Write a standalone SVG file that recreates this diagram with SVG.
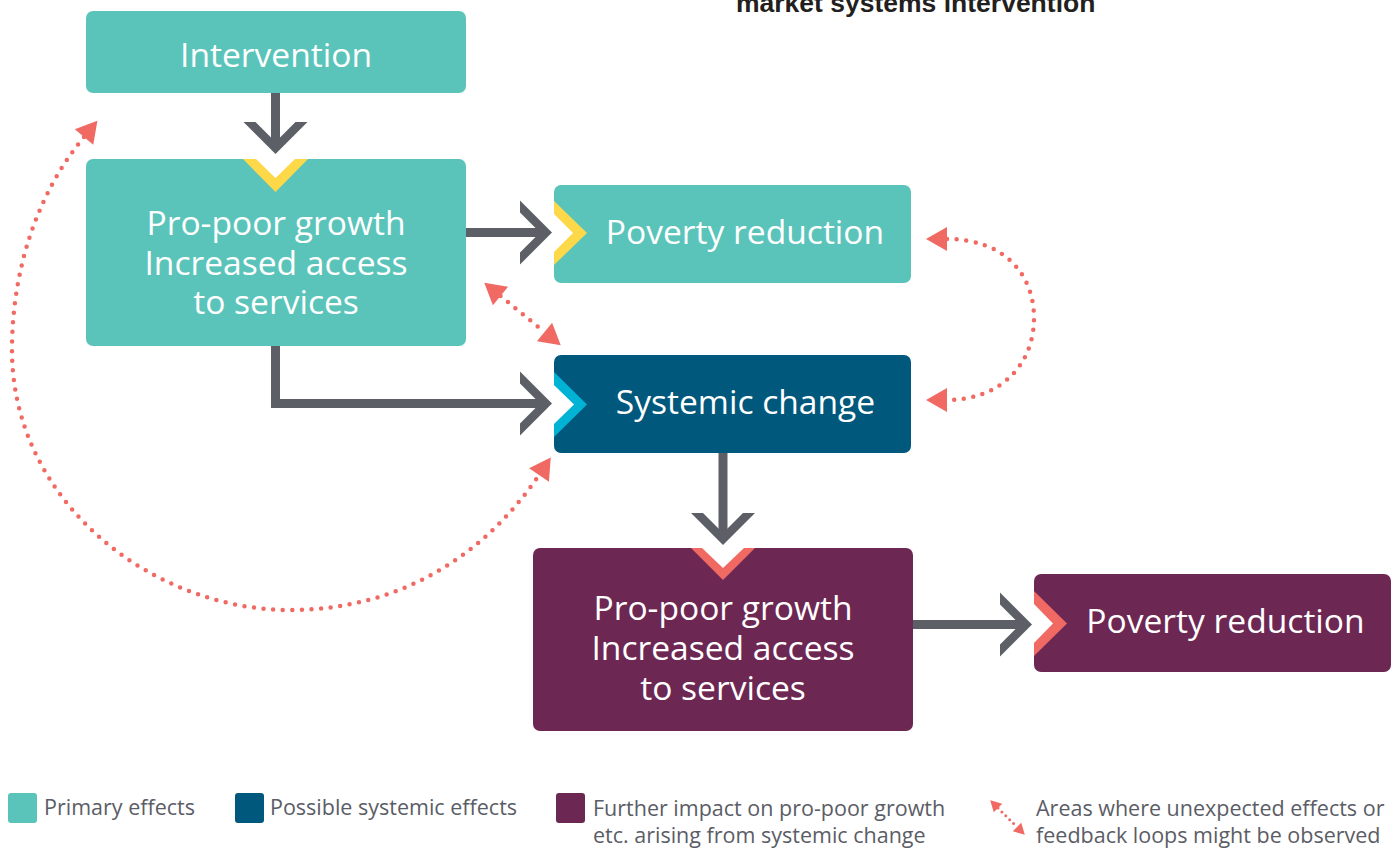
<svg xmlns="http://www.w3.org/2000/svg" width="1399" height="849" viewBox="0 0 1399 849">
<defs>
<style>
.teal{fill:#5bc4ba}
.blue{fill:#00587c}
.purple{fill:#6d2753}
.yellow{fill:#fdd848}
.cyan{fill:#00b2d3}
.coral{fill:#f06a63}
.white{fill:#ffffff}
.lbl{font-family:"Open Sans","Noto Sans","Liberation Sans",sans-serif;font-size:33.6px;fill:#ffffff;text-anchor:middle}
.leg{font-family:"Open Sans","Noto Sans","Liberation Sans",sans-serif;font-size:21.5px;fill:#5b5d66}
.title{font-family:"Liberation Sans",Arial,sans-serif;font-weight:bold;font-size:26.5px;fill:#231f20}
.line{fill:none;stroke:#5d5f67;stroke-width:9;stroke-linejoin:miter}
.head{fill:#5d5f67}
.dots{fill:none;stroke:#f06a63;stroke-width:4.5;stroke-linecap:round;stroke-dasharray:0 9.6}
.dots-s{fill:none;stroke:#f06a63;stroke-width:3;stroke-linecap:round;stroke-dasharray:0 5.5}
</style>
<path id="hdown" d="M-32,-32 L-20,-32 L0,-12 L20,-32 L32,-32 L0,0 Z"/>
<path id="hright" d="M-32,-32 L-32,-20 L-12,0 L-32,20 L-32,32 L0,0 Z"/>
<marker id="ah" markerUnits="userSpaceOnUse" markerWidth="30" markerHeight="30" viewBox="0 -15 30 30" refX="0" refY="0" orient="auto-start-reverse" overflow="visible">
<path d="M0,-12 L21,0 L0,12 Z" fill="#f06a63"/>
</marker>
<marker id="ahs" markerUnits="userSpaceOnUse" markerWidth="16" markerHeight="16" viewBox="0 -8 16 16" refX="0" refY="0" orient="auto-start-reverse" overflow="visible">
<path d="M0,-6 L11,0 L0,6 Z" fill="#f06a63"/>
</marker>
</defs>

<rect width="1399" height="849" fill="#ffffff"/>

<text class="title" x="736" y="12">market systems intervention</text>

<g id="connectors">
<line class="line" x1="275.5" y1="93" x2="275.5" y2="145"/>
<use href="#hdown" class="head" x="275.5" y="154"/>
<line class="line" x1="466" y1="232.5" x2="542" y2="232.5"/>
<use href="#hright" class="head" x="552" y="232.5"/>
<path class="line" d="M275.5 346 V403.5 H542"/>
<use href="#hright" class="head" x="552" y="403.5"/>
<line class="line" x1="723" y1="453" x2="723" y2="536"/>
<use href="#hdown" class="head" x="723" y="545"/>
<line class="line" x1="913" y1="624.5" x2="1022" y2="624.5"/>
<use href="#hright" class="head" x="1032" y="624.5"/>

<path class="dots" d="M84 137 C40 190, 12 265, 12 350 C12 500, 150 610, 290 610 C400 610, 485 555, 539 475" marker-start="url(#ah)" marker-end="url(#ah)"/>
<path class="dots" d="M947 239 C1005 239, 1034 275, 1034 318 C1034 365, 1000 400, 947 400" marker-start="url(#ah)" marker-end="url(#ah)"/>
<path class="dots" d="M500.5 296 L544.5 332" marker-start="url(#ah)" marker-end="url(#ah)"/>
</g>

<g id="intervention">
<rect class="teal" x="86" y="11" width="380" height="82" rx="7"/>
<text class="lbl" x="276" y="67">Intervention</text>
</g>

<g id="propoor-primary">
<rect class="teal" x="86" y="159" width="380" height="187" rx="7"/>
<polygon class="yellow" points="243,159 275.5,192 308,159"/>
<polygon class="white" points="256,159 275.5,178 295,159"/>
<text class="lbl" x="276" y="235">Pro-poor growth</text>
<text class="lbl" x="276" y="275">Increased access</text>
<text class="lbl" x="276" y="314">to services</text>
</g>

<g id="poverty-primary">
<rect class="teal" x="554" y="185" width="357" height="98" rx="7"/>
<polygon class="yellow" points="554,201 587,233 554,265"/>
<polygon class="white" points="554,214 573,233 554,252"/>
<text class="lbl" x="745" y="244">Poverty reduction</text>
</g>

<g id="systemic-change">
<rect class="blue" x="554" y="355" width="357" height="98" rx="7"/>
<polygon class="cyan" points="554,372 587,404.5 554,437"/>
<polygon class="white" points="554,385 574,404.5 554,424"/>
<text class="lbl" x="745.5" y="414">Systemic change</text>
</g>

<g id="propoor-further">
<rect class="purple" x="533" y="548" width="380" height="183" rx="7"/>
<polygon class="coral" points="691,548 723,580 755,548"/>
<polygon class="white" points="702,548 723,568 744,548"/>
<text class="lbl" x="723" y="620">Pro-poor growth</text>
<text class="lbl" x="723" y="660">Increased access</text>
<text class="lbl" x="723" y="700">to services</text>
</g>

<g id="poverty-further">
<rect class="purple" x="1034" y="574" width="357" height="98" rx="7"/>
<polygon class="coral" points="1034,591 1067,623.5 1034,656"/>
<polygon class="white" points="1034,604 1053,623.5 1034,643"/>
<text class="lbl" x="1225.5" y="633">Poverty reduction</text>
</g>

<g id="legend">
<rect class="teal" x="8" y="793" width="29" height="30" rx="3"/>
<text class="leg" x="44" y="815">Primary effects</text>
<rect class="blue" x="235" y="793" width="29" height="30" rx="3"/>
<text class="leg" x="270" y="815">Possible systemic effects</text>
<rect class="purple" x="556" y="793" width="29" height="30" rx="3"/>
<text class="leg" x="593" y="816">Further impact on pro-poor growth</text>
<text class="leg" x="593" y="843">etc. arising from systemic change</text>
<path class="dots-s" d="M998 808 L1017 827" marker-start="url(#ahs)" marker-end="url(#ahs)"/>
<text class="leg" x="1036" y="816">Areas where unexpected effects or</text>
<text class="leg" x="1036" y="843">feedback loops might be observed</text>
</g>
</svg>
